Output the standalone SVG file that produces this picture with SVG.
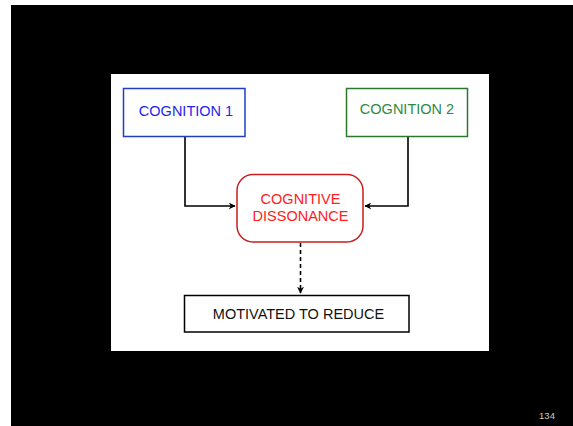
<svg xmlns="http://www.w3.org/2000/svg" width="573" height="426" viewBox="0 0 573 426">
  <defs>
    <style>
      .lbl { font-family: "Liberation Sans", Arial, sans-serif; font-size: 14.5px; text-anchor: middle; }
      .edge { fill: none; stroke: #000; stroke-width: 1.6; }
    </style>
    <marker id="arrow" viewBox="0 0 10 10" refX="9" refY="5" markerWidth="7" markerHeight="7" markerUnits="userSpaceOnUse" orient="auto">
      <path d="M0,0 L10,5 L0,10 L3,5 z" fill="#000"/>
    </marker>
  </defs>

  <!-- slide background -->
  <rect x="0" y="0" width="573" height="426" fill="#fff"/>
  <rect x="11" y="5" width="562" height="421" fill="#000"/>
  <!-- content panel -->
  <rect x="111" y="74" width="378" height="277" fill="#fff"/>

  <g id="connectors">
    <path class="edge" d="M185,137 V206 H235" marker-end="url(#arrow)"/>
    <path class="edge" d="M408,137 V206 H365" marker-end="url(#arrow)"/>
    <path class="edge" d="M300.5,243 V293" stroke-dasharray="4,3" marker-end="url(#arrow)"/>
  </g>

  <g id="cognition1">
    <rect x="123.5" y="88.5" width="121.5" height="48" fill="#fff" stroke="#1f3fc4" stroke-width="1.5"/>
    <text class="lbl" x="186" y="116" fill="#2424ee">COGNITION 1</text>
  </g>

  <g id="cognition2">
    <rect x="346.5" y="88.5" width="121" height="48" fill="#fff" stroke="#2a7a2a" stroke-width="1.5"/>
    <text class="lbl" x="407" y="113.5" fill="#2e8b3e">COGNITION 2</text>
  </g>

  <g id="dissonance">
    <rect x="237" y="174.5" width="126" height="67.5" rx="16" ry="16" fill="#fff" stroke="#c81e1e" stroke-width="1.5"/>
    <text class="lbl" x="300.5" y="203.5" fill="#ff2020">COGNITIVE</text>
    <text class="lbl" x="300.5" y="221" fill="#ff2020">DISSONANCE</text>
  </g>

  <g id="motivated">
    <rect x="184.5" y="295.5" width="224.5" height="36.5" fill="#fff" stroke="#000" stroke-width="1.5"/>
    <text class="lbl" x="298.5" y="319" fill="#111">MOTIVATED TO REDUCE</text>
  </g>

  <text x="547" y="418.5" font-family="'Liberation Sans', Arial, sans-serif" font-size="9.5" fill="#ccc" text-anchor="middle">134</text>
</svg>
